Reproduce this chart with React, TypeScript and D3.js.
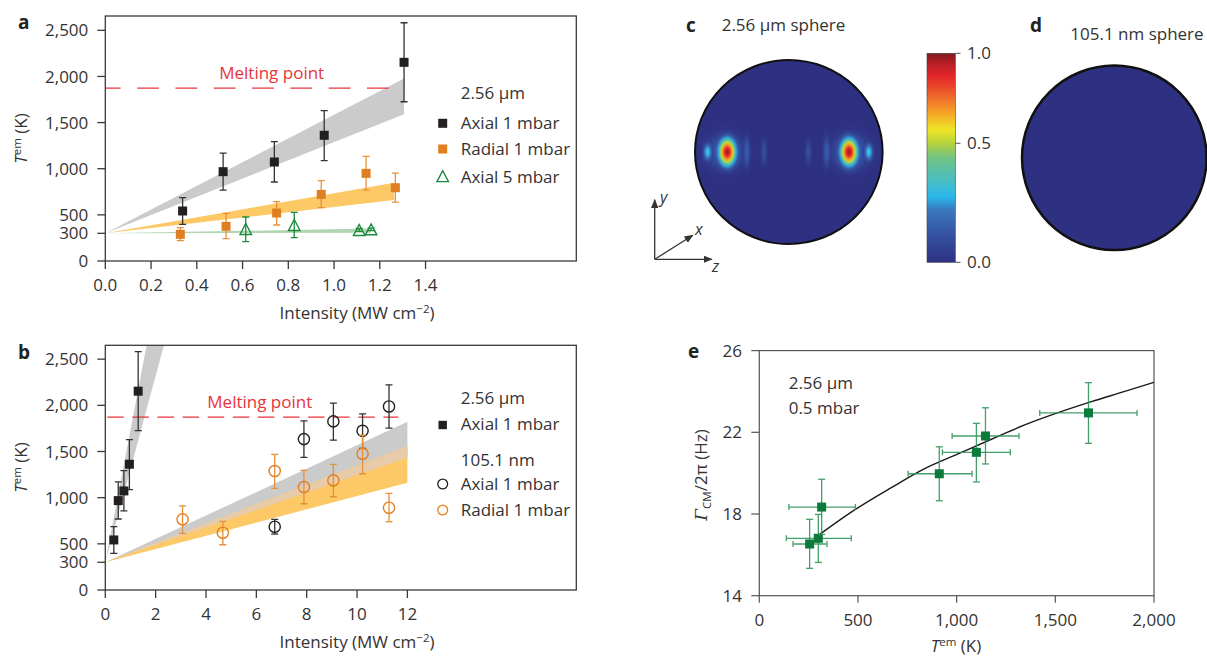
import React from 'react';
import * as d3 from 'd3';

const FONT = "'Open Sans', 'Liberation Sans', Arial, sans-serif";
const INK = '#333333';
const FS = 17;

// ---------------- Panels a & b : temperature vs intensity ----------------
const baseT = 300;
const meltingT = 1873;
const meltingEndA = 1.30;
const meltingEndB = 11.64;

// 2.56 um sphere, axial, 1 mbar (black squares)
const ax1X = [0.338, 0.515, 0.739, 0.957, 1.306];
const ax1T = [542, 968, 1073, 1362, 2153];
const ax1Hi = [686, 1170, 1293, 1629, 2582];
const ax1Lo = [397, 769, 856, 1087, 1726];

// 2.56 um sphere, radial, 1 mbar (orange squares)
const rad1X = [0.328, 0.528, 0.749, 0.944, 1.140, 1.268];
const rad1T = [289, 376, 520, 722, 950, 794];
const rad1Hi = [361, 517, 643, 870, 1134, 953];
const rad1Lo = [220, 242, 390, 578, 769, 639];

// 2.56 um sphere, axial, 5 mbar (green open triangles)
const ax5X = [0.614, 0.826, 1.110, 1.162];
const ax5T = [347, 390, 336, 343];
const ax5Hi = [477, 528, 352, 356];
const ax5Lo = [209, 253, 322, 330];

// 105.1 nm sphere, axial 1 mbar (black open circles)
const nmAxX = [6.73, 7.89, 9.06, 10.22, 11.27];
const nmAxT = [685, 1634, 1826, 1724, 1988];
const nmAxHi = [765, 1832, 2024, 1908, 2222];
const nmAxLo = [606, 1436, 1623, 1533, 1753];

// 105.1 nm sphere, radial 1 mbar (orange open circles)
const nmRadX = [3.07, 4.67, 6.73, 7.89, 9.06, 10.22, 11.27];
const nmRadT = [765, 620, 1288, 1115, 1187, 1475, 891];
const nmRadHi = [912, 743, 1468, 1295, 1360, 1677, 1047];
const nmRadLo = [613, 490, 1100, 934, 1010, 1259, 739];

// theory bands: [end intensity, upper T, lower T], all start at (0, baseT)
const bandAAxial1 = [1.306, 1979, 1589];
const bandARadial1 = [1.263, 848, 661];
const bandAAxial5 = [1.16, 352, 306];
const bandBAxial1 = [2.5, 3883, 2823];
const bandBNmAxial = [12, 1821, 1432];
const bandBNmRadial = [12, 1558, 1161];

const aXTicks = [0, 0.2, 0.4, 0.6, 0.8, 1.0, 1.2, 1.4];
const bXTicks = [0, 2, 4, 6, 8, 10, 12];
const tYTicks = [0, 300, 500, 1000, 1500, 2000, 2500];

// ---------------- Panel e : damping vs temperature ----------------
const eT = [255, 299, 316, 912, 1100, 1146, 1668];
const eTLo = [171, 137, 150, 754, 928, 977, 1421];
const eTHi = [343, 466, 487, 1078, 1272, 1316, 1914];
const eG = [16.53, 16.81, 18.34, 19.97, 21.02, 21.82, 22.95];
const eGLo = [15.34, 15.63, 17.0, 18.65, 19.57, 20.45, 21.46];
const eGHi = [17.74, 17.98, 19.70, 21.29, 22.44, 23.2, 24.43];
const fitT = [306, 483, 669, 838, 1007, 1176, 1345, 1514, 1683, 1852, 2000];
const fitG = [17.0, 18.2, 19.29, 20.22, 20.94, 21.66, 22.36, 22.96, 23.5, 24.0, 24.45];
const eXTicks = [0, 500, 1000, 1500, 2000];
const eYTicks = [14, 18, 22, 26];

// ---------------- Panels c & d : absorption maps ----------------
const cmapStops = [0, 0.139, 0.25, 0.314, 0.41, 0.506, 0.569, 0.633, 0.713, 0.777, 0.888, 0.952, 1];
const cmapColors = ['#2e3182', '#3554a4', '#3a78bd', '#2bb8ec', '#4fbfb8', '#75c37f', '#b5d33c', '#eee626', '#f6a526', '#f0732b', '#e5262a', '#b81e25', '#7d1a1c'];
const cbarTicks = [0, 0.5, 1.0];
// hot spots inside the 2.56 um sphere (z offset, half-widths relative to radius, peak value)
const spotZ = [-0.68, 0.66, -0.449, -0.264, 0.208, 0.404, -0.865, 0.852, -0.656, 0.642];
const spotRz = [0.34, 0.34, 0.065, 0.055, 0.055, 0.065, 0.08, 0.08, 0.165, 0.165];
const spotRy = [0.32, 0.32, 0.28, 0.22, 0.22, 0.28, 0.16, 0.16, 0.26, 0.26];
const spotPeak = [0.2, 0.2, 0.17, 0.12, 0.12, 0.17, 0.37, 0.37, 0.97, 0.97];

const fmtComma = d3.format(',');
const fmt1 = d3.format('.1f');

function Txt(p: any) {
  const size = p.size || FS;
  return (
    <text x={p.x} y={p.y + size * 0.36} fontSize={size} textAnchor={p.anchor || 'start'}
      fill={p.fill || INK} fontFamily={FONT} fontWeight={p.weight || 'normal'} fontStyle={p.italic ? 'italic' : 'normal'}>
      {p.children}
    </text>
  );
}

function VErr({ x, y1, y2, cap, stroke, sw = 1.3, op = 1 }: any) {
  return (
    <g stroke={stroke} strokeWidth={sw} opacity={op}>
      <line x1={x} x2={x} y1={y1} y2={y2} />
      <line x1={x - cap} x2={x + cap} y1={y1} y2={y1} />
      <line x1={x - cap} x2={x + cap} y1={y2} y2={y2} />
    </g>
  );
}
function HErr({ y, x1, x2, cap, stroke, sw = 1.3, op = 1 }: any) {
  return (
    <g stroke={stroke} strokeWidth={sw} opacity={op}>
      <line x1={x1} x2={x2} y1={y} y2={y} />
      <line x1={x1} x2={x1} y1={y - cap} y2={y + cap} />
      <line x1={x2} x2={x2} y1={y - cap} y2={y + cap} />
    </g>
  );
}

function triPath(cx: number, cy: number, s: number) {
  const h = s * 0.95;
  return `M${cx},${cy - h / 2} L${cx + s / 2},${cy + h / 2} L${cx - s / 2},${cy + h / 2} Z`;
}

function bandArea(xs: any, ys: any, b: number[]) {
  return d3.area<number[]>().x(d => xs(d[0])).y0(d => ys(d[2])).y1(d => ys(d[1]))([[0, baseT, baseT], [b[0], b[1], b[2]]]) || '';
}

function TAxisLabel({ x, y }: any) {
  return (
    <g transform={`translate(${x},${y}) rotate(-90)`}>
      <text x={0} y={FS * 0.36} fontSize={FS} textAnchor="middle" fill={INK} fontFamily={FONT}>
        <tspan fontStyle="italic">T</tspan>
        <tspan dy={-6} fontSize={11.5}>em</tspan>
        <tspan dy={6}> (K)</tspan>
      </text>
    </g>
  );
}

function IntensityLabel({ x, y }: any) {
  return (
    <text x={x} y={y + FS * 0.36} fontSize={FS} textAnchor="middle" fill={INK} fontFamily={FONT}>
      Intensity (MW cm<tspan dy={-6} fontSize={11.5}>−2</tspan><tspan dy={6}>)</tspan>
    </text>
  );
}

function TempPanel({ xs, ys, xTicks, xFmt, label, labelY, clipId, children }: any) {
  const [x0, x1] = xs.range();
  const [yB, yT] = ys.range();
  return (
    <g>
      <defs>
        <clipPath id={clipId}><rect x={x0} y={yT} width={x1 - x0} height={yB - yT} /></clipPath>
      </defs>
      <g clipPath={`url(#${clipId})`}>{children}</g>
      <rect x={x0} y={yT} width={x1 - x0} height={yB - yT} fill="none" stroke="#3a3a3a" strokeWidth={1.3} />
      {tYTicks.map(v => (
        <g key={'y' + v}>
          <line x1={x0 - 8} x2={x0} y1={ys(v)} y2={ys(v)} stroke="#3a3a3a" strokeWidth={1.3} />
          <Txt x={x0 - 17} y={ys(v)} anchor="end">{fmtComma(v)}</Txt>
        </g>
      ))}
      {xTicks.map((v: number) => (
        <g key={'x' + v}>
          <line x1={xs(v)} x2={xs(v)} y1={yB} y2={yB + 8} stroke="#3a3a3a" strokeWidth={1.3} />
          <Txt x={xs(v)} y={yB + 24} anchor="middle">{xFmt(v)}</Txt>
        </g>
      ))}
      <TAxisLabel x={20.5} y={labelY} />
      <IntensityLabel x={357} y={yB + 52} />
      <Txt x={18} y={yT + 6.5} size={19} weight="bold" fill="#222">{label}</Txt>
    </g>
  );
}

export default function App() {
  const xa = d3.scaleLinear().domain([0, 2.059]).range([105.3, 576.3]);
  const ya = d3.scaleLinear().domain([0, 2655]).range([261, 16]);
  const xb = d3.scaleLinear().domain([0, 18.71]).range([105.3, 576.3]);
  const yb = d3.scaleLinear().domain([0, 2650]).range([590, 345.3]);
  const xe = d3.scaleLinear().domain([0, 2000]).range([759.3, 1154]);
  const ye = d3.scaleLinear().domain([14, 26]).range([595.7, 350.6]);
  const cmap = d3.scaleLinear<string>().domain(cmapStops).range(cmapColors).interpolate(d3.interpolateRgb).clamp(true);
  const cbar = d3.scaleLinear().domain([0, 0.5, 1]).range([262.3, 143.3, 53.3]);

  const RED = '#e8333d';
  const BLACK = '#231f20';
  const ORANGE = '#e07f22';
  const ORANGE_ERR = '#e8903a';
  const GREEN = '#1b8a3e';
  const SQ = 9;

  // overlap of the two 105.1 nm bands
  const overlap = [bandBNmAxial[0], Math.min(bandBNmAxial[1], bandBNmRadial[1]), Math.max(bandBNmAxial[2], bandBNmRadial[2])];

  // sphere c geometry
  const cC = { cx: 788.8, cy: 152, rx: 93.8, ry: 92 };
  const dC = { cx: 1114.3, cy: 157.8, r: 92.3 };
  const tStops = d3.range(0, 1.0001, 0.1);

  const fitLine = d3.line<number>().x((_, i) => xe(fitT[i])).y(d => ye(d)).curve(d3.curveMonotoneX)(fitG) || '';

  return (
    <svg width={1207} height={657} style={{ position: 'absolute', left: 0, top: 0, background: '#fff' }} fontFamily={FONT}>
      <rect x={0} y={0} width={1207} height={657} fill="#fff" />
      <defs>
        <marker id="arr" viewBox="0 0 10 10" refX="9" refY="5" markerWidth="7" markerHeight="7" orient="auto">
          <path d="M0,1 L10,5 L0,9 Z" fill="#333" />
        </marker>
        <linearGradient id="cbarGrad" x1="0" y1="1" x2="0" y2="0">
          {cmapStops.map((s, i) => <stop key={i} offset={s} stopColor={cmapColors[i]} />)}
        </linearGradient>
        {spotPeak.map((pk, i) => (
          <radialGradient key={i} id={'spot' + i}>
            {tStops.map(t => {
              const v = pk * Math.exp(-3.2 * t * t);
              return <stop key={t} offset={t} stopColor={cmap(v)} stopOpacity={t < 0.5 ? 1 : Math.max(0, (1 - t) / 0.5)} />;
            })}
          </radialGradient>
        ))}
        <clipPath id="clipC"><ellipse cx={cC.cx} cy={cC.cy} rx={cC.rx} ry={cC.ry} /></clipPath>
      </defs>

      {/* ---------------- Panel a ---------------- */}
      <TempPanel xs={xa} ys={ya} xTicks={aXTicks} xFmt={fmt1} label="a" labelY={138.5} clipId="clipA">
        <path d={bandArea(xa, ya, bandAAxial1)} fill="#cbcbcb" />
        <path d={bandArea(xa, ya, bandARadial1)} fill="#fdc866" />
        <path d={bandArea(xa, ya, bandAAxial5)} fill="#a8d0aa" opacity={0.9} />
        <line x1={xa(0)} x2={xa(meltingEndA)} y1={ya(meltingT)} y2={ya(meltingT)} stroke={RED} strokeWidth={1.3} strokeDasharray="21.7 16.6" strokeDashoffset={6.4} />
        {ax1X.map((x, i) => <VErr key={'ae' + i} x={xa(x)} y1={ya(ax1Hi[i])} y2={ya(ax1Lo[i])} cap={3.5} stroke="#333" />)}
        {rad1X.map((x, i) => <VErr key={'re' + i} x={xa(x)} y1={ya(rad1Hi[i])} y2={ya(rad1Lo[i])} cap={3.5} stroke={ORANGE_ERR} />)}
        {ax5X.map((x, i) => <VErr key={'ge' + i} x={xa(x)} y1={ya(ax5Hi[i])} y2={ya(ax5Lo[i])} cap={3.5} stroke={GREEN} />)}
        {ax1X.map((x, i) => <rect key={'as' + i} x={xa(x) - SQ / 2} y={ya(ax1T[i]) - SQ / 2} width={SQ} height={SQ} fill={BLACK} />)}
        {rad1X.map((x, i) => <rect key={'rs' + i} x={xa(x) - SQ / 2} y={ya(rad1T[i]) - SQ / 2} width={SQ} height={SQ} fill={ORANGE} />)}
        {ax5X.map((x, i) => <path key={'gt' + i} d={triPath(xa(x), ya(ax5T[i]), 11.5)} fill="none" stroke={GREEN} strokeWidth={1.4} />)}
      </TempPanel>
      <Txt x={271.7} y={72.7} fill={RED} anchor="middle">Melting point</Txt>
      <Txt x={460.7} y={93.3}>2.56 µm</Txt>
      <rect x={442.7 - 4.5} y={123.3 - 4.5} width={9} height={9} fill={BLACK} />
      <Txt x={460.7} y={123.3}>Axial 1 mbar</Txt>
      <rect x={442.7 - 4.5} y={149 - 4.5} width={9} height={9} fill={ORANGE} />
      <Txt x={460.7} y={149}>Radial 1 mbar</Txt>
      <path d={triPath(442.7, 176.2, 11.5)} fill="none" stroke={GREEN} strokeWidth={1.4} />
      <Txt x={460.7} y={176.7}>Axial 5 mbar</Txt>

      {/* ---------------- Panel b ---------------- */}
      <TempPanel xs={xb} ys={yb} xTicks={bXTicks} xFmt={(v: number) => String(v)} label="b" labelY={467.5} clipId="clipB">
        <path d={bandArea(xb, yb, bandBNmAxial)} fill="#cbcbcb" />
        <path d={bandArea(xb, yb, bandBNmRadial)} fill="#fdc866" />
        <path d={bandArea(xb, yb, overlap)} fill="#e8cba8" />
        <path d={bandArea(xb, yb, bandBAxial1)} fill="#cbcbcb" />
        <line x1={xb(0)} x2={xb(meltingEndB)} y1={yb(meltingT)} y2={yb(meltingT)} stroke={RED} strokeWidth={1.3} strokeDasharray="16.5 8.6" strokeDashoffset={-2} />
        {ax1X.map((x, i) => <VErr key={'be' + i} x={xb(x)} y1={yb(ax1Hi[i])} y2={yb(ax1Lo[i])} cap={3.5} stroke="#333" />)}
        {ax1X.map((x, i) => <rect key={'bs' + i} x={xb(x) - SQ / 2} y={yb(ax1T[i]) - SQ / 2} width={SQ} height={SQ} fill={BLACK} />)}
        {nmAxX.map((x, i) => <VErr key={'ne' + i} x={xb(x)} y1={yb(nmAxHi[i])} y2={yb(nmAxLo[i])} cap={3.5} stroke="#333" />)}
        {nmAxX.map((x, i) => <circle key={'nc' + i} cx={xb(x)} cy={yb(nmAxT[i])} r={5.6} fill="none" stroke={BLACK} strokeWidth={1.4} />)}
        {nmRadX.map((x, i) => <VErr key={'oe' + i} x={xb(x)} y1={yb(nmRadHi[i])} y2={yb(nmRadLo[i])} cap={3.5} stroke={ORANGE_ERR} />)}
        {nmRadX.map((x, i) => <circle key={'oc' + i} cx={xb(x)} cy={yb(nmRadT[i])} r={5.6} fill="none" stroke={ORANGE} strokeWidth={1.4} />)}
      </TempPanel>
      <Txt x={207.3} y={401.7} fill={RED}>Melting point</Txt>
      <Txt x={460.7} y={397.7}>2.56 µm</Txt>
      <rect x={442.7 - 4.2} y={425 - 4.2} width={8.4} height={8.4} fill={BLACK} />
      <Txt x={460.7} y={423.5}>Axial 1 mbar</Txt>
      <Txt x={460.7} y={460}>105.1 nm</Txt>
      <circle cx={442.7} cy={484} r={4.9} fill="none" stroke={BLACK} strokeWidth={1.3} />
      <Txt x={460.7} y={484}>Axial 1 mbar</Txt>
      <circle cx={442.7} cy={510} r={4.9} fill="none" stroke={ORANGE} strokeWidth={1.3} />
      <Txt x={460.7} y={510}>Radial 1 mbar</Txt>

      {/* ---------------- Panel c ---------------- */}
      <Txt x={686} y={24.7} size={19} weight="bold" fill="#222">c</Txt>
      <Txt x={721.7} y={25}>2.56 µm sphere</Txt>
      <ellipse cx={cC.cx} cy={cC.cy} rx={cC.rx} ry={cC.ry} fill={cmap(0)} />
      <g clipPath="url(#clipC)">
        {spotPeak.map((_, i) => (
          <ellipse key={i} cx={cC.cx + spotZ[i] * cC.rx} cy={cC.cy} rx={spotRz[i] * cC.rx} ry={spotRy[i] * cC.rx} fill={`url(#spot${i})`} />
        ))}
      </g>
      <ellipse cx={cC.cx} cy={cC.cy} rx={cC.rx} ry={cC.ry} fill="none" stroke="#111" strokeWidth={2} />
      {/* axes triad */}
      <line x1={654.7} y1={259.3} x2={654.7} y2={199.8} stroke="#333" strokeWidth={1.3} markerEnd="url(#arr)" />
      <line x1={654.7} y1={259.3} x2={711.8} y2={259.3} stroke="#333" strokeWidth={1.3} markerEnd="url(#arr)" />
      <line x1={654.7} y1={259.3} x2={692.8} y2={235.3} stroke="#333" strokeWidth={1.3} markerEnd="url(#arr)" />
      <Txt x={660} y={197} size={16} italic>y</Txt>
      <Txt x={695} y={229.5} size={16} italic>x</Txt>
      <Txt x={712} y={266} size={16} italic>z</Txt>

      {/* colour bar */}
      <rect x={927} y={cbar(1)} width={28.3} height={cbar(0) - cbar(1)} fill="url(#cbarGrad)" stroke="#444" strokeWidth={0.6} />
      {cbarTicks.map(v => (
        <g key={v}>
          <line x1={955.3} x2={960.5} y1={cbar(v)} y2={cbar(v)} stroke="#555" strokeWidth={1} />
          <Txt x={967} y={cbar(v)}>{fmt1(v)}</Txt>
        </g>
      ))}

      {/* ---------------- Panel d ---------------- */}
      <Txt x={1030} y={25} size={19} weight="bold" fill="#222">d</Txt>
      <Txt x={1070.3} y={34.3}>105.1 nm sphere</Txt>
      <circle cx={dC.cx} cy={dC.cy} r={dC.r} fill={cmap(0)} stroke="#111" strokeWidth={2.5} />

      {/* ---------------- Panel e ---------------- */}
      <rect x={xe(0)} y={ye(26)} width={xe(2000) - xe(0)} height={ye(14) - ye(26)} fill="none" stroke="#555" strokeWidth={1.2} />
      {eYTicks.map(v => (
        <g key={'ey' + v}>
          <line x1={xe(0) - 8} x2={xe(0)} y1={ye(v)} y2={ye(v)} stroke="#555" strokeWidth={1.2} />
          <Txt x={742} y={ye(v)} anchor="end">{v}</Txt>
        </g>
      ))}
      {eXTicks.map(v => (
        <g key={'ex' + v}>
          <line x1={xe(v)} x2={xe(v)} y1={ye(14)} y2={ye(14) + 7} stroke="#555" strokeWidth={1.2} />
          <Txt x={xe(v)} y={620} anchor="middle">{fmtComma(v)}</Txt>
        </g>
      ))}
      <path d={fitLine} fill="none" stroke="#1a1a1a" strokeWidth={1.4} />
      {eT.map((t, i) => (
        <g key={'ep' + i}>
          <HErr y={ye(eG[i])} x1={xe(eTLo[i])} x2={xe(eTHi[i])} cap={3} stroke="#2f9658" sw={1.3} op={0.9} />
          <VErr x={xe(t)} y1={ye(eGHi[i])} y2={ye(eGLo[i])} cap={3.5} stroke="#2f9658" sw={1.3} op={0.9} />
          <rect x={xe(t) - 4.5} y={ye(eG[i]) - 4.5} width={9} height={9} fill="#0b7a3a" />
        </g>
      ))}
      <Txt x={788.7} y={383.3}>2.56 µm</Txt>
      <Txt x={788.7} y={408.3}>0.5 mbar</Txt>
      <Txt x={688} y={351} size={19} weight="bold" fill="#222">e</Txt>
      <g transform={`translate(701,475) rotate(-90)`}>
        <text x={0} y={FS * 0.36} fontSize={FS} textAnchor="middle" fill={INK} fontFamily={FONT}>
          <tspan fontStyle="italic" fontFamily="'DejaVu Serif', serif">Γ</tspan>
          <tspan dy={4} fontSize={11.5}>CM</tspan>
          <tspan dy={-4}>/2π (Hz)</tspan>
        </text>
      </g>
      <text x={956} y={646 + FS * 0.36} fontSize={FS} textAnchor="middle" fill={INK} fontFamily={FONT}>
        <tspan fontStyle="italic">T</tspan>
        <tspan dy={-6} fontSize={11.5}>em</tspan>
        <tspan dy={6}> (K)</tspan>
      </text>
    </svg>
  );
}
